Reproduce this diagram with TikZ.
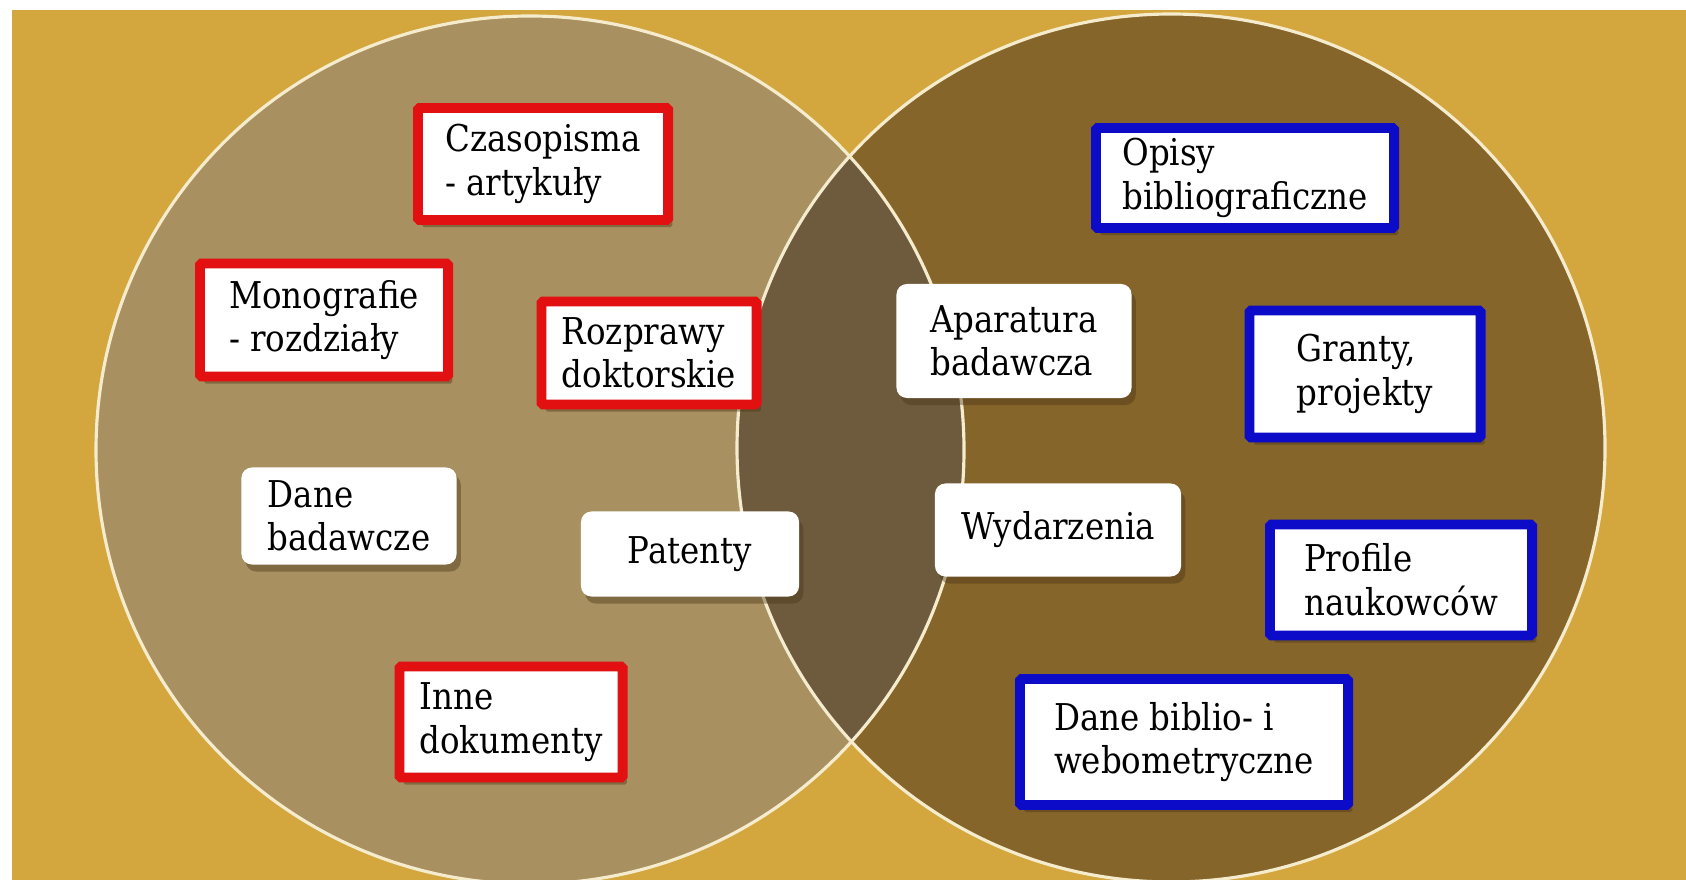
\documentclass[tikz,border=0pt]{standalone}
\usepackage{fontspec}
\setmainfont{DejaVu Serif}[FakeStretch=0.88]
\usetikzlibrary{shadows}

\definecolor{bggold}{RGB}{211,166,62}
\definecolor{lefttan}{RGB}{168,144,96}
\definecolor{rightbrown}{RGB}{134,101,42}
\definecolor{overlapbrown}{RGB}{110,90,60}
\definecolor{rimcream}{RGB}{245,235,205}
\definecolor{framered}{RGB}{226,16,16}
\definecolor{frameblue}{RGB}{12,12,200}
\definecolor{shadebrown}{RGB}{70,50,20}

\begin{document}
\begin{tikzpicture}[
    x=0.01cm, y=-0.01cm,
    plainbox/.style={fill=white, rounded corners=3pt, align=left, inner sep=2pt,
      font=\fontsize{10.5}{12.4}\selectfont,
      drop shadow={shadow xshift=1.2pt, shadow yshift=-2pt, opacity=0.4, fill=shadebrown}},
    redbox/.style={plainbox, rounded corners=0.5pt, draw=framered, line width=2.8pt},
    bluebox/.style={plainbox, rounded corners=0.5pt, draw=frameblue, line width=2.8pt},
    rim/.style={draw=rimcream, line width=0.9pt}
  ]

  % page and background
  \useasboundingbox (0,0) rectangle (1686,880);
  \fill[white] (0,0) rectangle (1686,880);
  \fill[bggold] (12,10) rectangle (1686,880);

  % the two sets
  \fill[lefttan] (530,450) circle (434);
  \fill[rightbrown] (1171,448) circle (434);
  \begin{scope}
    \clip (530,450) circle (434);
    \fill[overlapbrown] (1171,448) circle (434);
  \end{scope}
  \draw[rim] (530,450) circle (434);
  \draw[rim] (1171,448) circle (434);

  % left set
  \node[redbox, minimum width=2.50cm, minimum height=1.12cm] (czasopisma) at (543,164) {Czasopisma\\- artykuły};
  \node[redbox, minimum width=2.48cm, minimum height=1.13cm] (monografie) at (324,320) {Monografie\\- rozdziały};
  \node[redbox, minimum width=2.15cm, minimum height=1.03cm] (rozprawy) at (649,353) {Rozprawy\\doktorskie};
  \node[plainbox, minimum width=2.15cm, minimum height=0.97cm] (danebad) at (349,516) {Dane\\badawcze};
  \node[plainbox, minimum width=2.18cm, minimum height=0.85cm] (patenty) at (690,554) {Patenty};
  \node[redbox, minimum width=2.23cm, minimum height=1.11cm] (inne) at (511,722) {Inne\\dokumenty};

  % overlap and right set
  \node[plainbox, minimum width=2.35cm, minimum height=1.14cm] (aparatura) at (1014,341) {Aparatura\\badawcza};
  \node[plainbox, minimum width=2.46cm, minimum height=0.93cm] (wydarzenia) at (1058,530) {Wydarzenia};
  \node[bluebox, minimum width=2.98cm, minimum height=1.00cm] (opisy) at (1245,178) {Opisy\\bibliograficzne};
  \node[bluebox, minimum width=2.31cm, minimum height=1.27cm] (granty) at (1365,374) {Granty,\\projekty};
  \node[bluebox, minimum width=2.62cm, minimum height=1.11cm] (profile) at (1401,580) {Profile\\naukowców};
  \node[bluebox, minimum width=3.28cm, minimum height=1.26cm] (danebiblio) at (1184,742) {Dane biblio- i\\webometryczne};

\end{tikzpicture}
\end{document}
